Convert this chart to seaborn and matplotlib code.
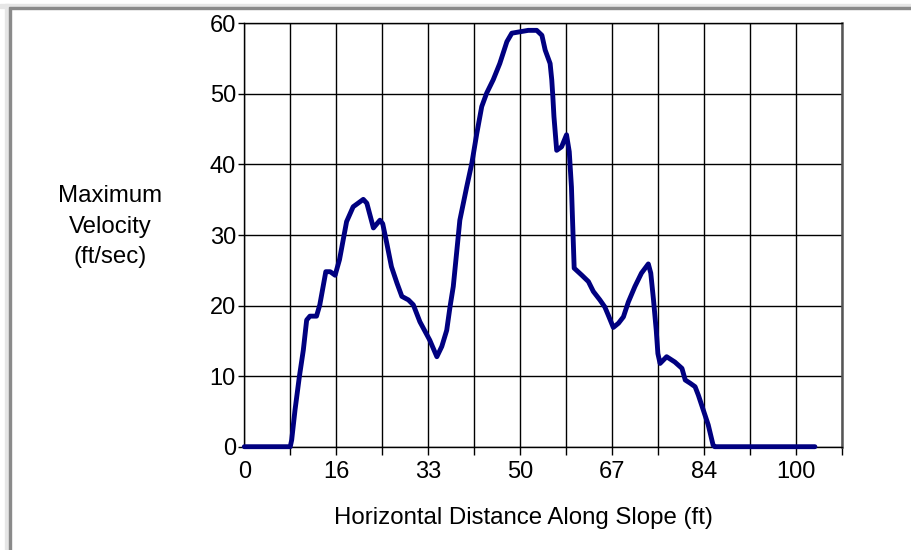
import matplotlib
matplotlib.use("Agg")
import matplotlib.pyplot as plt
from matplotlib.patches import Rectangle
import numpy as np
import pandas as pd
import seaborn as sns

distance_ft = [0, 8.4, 8.66, 9.27, 10.06, 10.79, 11.4, 12.0, 13.2, 13.8, 14.9, 15.7,
               16.6, 17.4, 18.7, 19.9, 21.75, 22.4, 23.6, 24.8, 25.3, 26.0, 26.9,
               27.9, 28.8, 30.0, 30.9, 32.1, 33.9, 35.2, 36.1, 37.0, 37.6, 38.2,
               38.8, 39.4, 40.65, 41.6, 42.5, 43.4, 44.3, 45.5, 46.7, 48.0, 48.9,
               50.4, 51.9, 53.45, 54.4, 55.0, 55.9, 56.2, 56.4, 56.6, 57.1, 58.0,
               58.9, 59.4, 59.8, 60.0, 60.3, 61.7, 62.9, 63.8, 65.0, 65.9, 66.5,
               67.45, 68.4, 69.3, 70.2, 71.4, 72.6, 73.85, 74.3, 74.8, 75.3, 75.6,
               76.0, 77.2, 78.7, 80.0, 80.6, 81.5, 82.4, 83.0, 83.9, 84.8, 85.7,
               86.0, 104.3]
velocity_fps = [0, 0, 0.95, 5.2, 9.9, 13.7, 17.95, 18.5, 18.5, 20.1, 24.8, 24.8,
                24.3, 26.5, 31.9, 34.0, 35.05, 34.5, 31.0, 32.1, 31.6, 29.0, 25.5,
                23.2, 21.3, 20.8, 20.1, 17.7, 15.1, 12.75, 14.2, 16.5, 19.8, 22.7,
                27.4, 32.1, 36.8, 40.2, 44.4, 48.2, 50.1, 52.0, 54.3, 57.4, 58.6,
                58.8, 59.0, 59.0, 58.3, 56.2, 54.3, 52.0, 49.6, 46.8, 42.0, 42.5,
                44.2, 41.8, 36.8, 32.1, 25.3, 24.3, 23.4, 22.0, 20.8, 19.8, 18.7,
                16.9, 17.5, 18.4, 20.5, 22.7, 24.6, 25.9, 24.6, 20.8, 16.5, 13.2,
                11.8, 12.75, 12.0, 11.1, 9.45, 9.0, 8.5, 7.3, 5.2, 3.1, 0.2,
                0, 0]

x_grid_step = 8.4
x_max = 109.2
x_tick_labels = ["0", "", "16", "", "33", "", "50", "", "67", "", "84", "", "100", ""]
y_ticks = [0, 10, 20, 30, 40, 50, 60]

sns.set_style("white")
plt.rcParams["font.family"] = ["Liberation Sans", "DejaVu Sans"]
plt.rcParams["text.color"] = "black"
plt.rcParams["xtick.color"] = "black"
plt.rcParams["ytick.color"] = "black"

W, H = 912, 550
fig = plt.figure(figsize=(W / 100, H / 100), dpi=100)
ax = fig.add_axes([244.3 / W, 1 - 446.7 / H, (841.7 - 244.3) / W, (446.7 - 23.3) / H])

df = pd.DataFrame({"x": distance_ft, "v": velocity_fps})
sns.lineplot(data=df, x="x", y="v", ax=ax, color="#000080", linewidth=3.5,
             sort=False, estimator=None, zorder=5, clip_on=False)

ax.set_xlim(0, x_max)
ax.set_ylim(0, 60)
xt = np.arange(len(x_tick_labels)) * x_grid_step
ax.set_xticks(xt)
ax.set_xticklabels(x_tick_labels)
ax.set_yticks(y_ticks)
ax.set_yticklabels([str(v) for v in y_ticks])

ax.grid(True, color="black", linewidth=1.0)
ax.set_axisbelow(True)
ax.tick_params(axis="x", direction="out", length=6, width=1.0, colors="black",
               pad=4, labelsize=17, bottom=True)
ax.tick_params(axis="y", direction="out", length=4, width=1.0, colors="black",
               pad=2, labelsize=17, left=True)
ax.xaxis.get_major_ticks()[0].tick1line.set_visible(False)
for s in ["left", "bottom", "top"]:
    ax.spines[s].set_color("black")
    ax.spines[s].set_linewidth(1.0)
ax.spines["right"].set_color("#555555")
ax.spines["right"].set_linewidth(1.8)
ax.set_xlabel("")
ax.set_ylabel("")

fig.text(523 / W, 1 - 518 / H, "Horizontal Distance Along Slope (ft)",
         ha="center", va="center", fontsize=17.3, color="black")
fig.text(110 / W, 1 - 227 / H, "Maximum\nVelocity\n(ft/sec)",
         ha="center", va="center", fontsize=17.3, linespacing=1.5, color="black")

# window frame
fig.patches.append(Rectangle((0, 1 - 8 / H), 1, 4 / H, transform=fig.transFigure,
                             color="#e6e6e6", zorder=0))
fig.patches.append(Rectangle((9 / W, 1 - 9 / H), 1, 2 / H, transform=fig.transFigure,
                             color="#8a8a8a", zorder=1))
fig.patches.append(Rectangle((5 / W, 0), 4 / W, 1 - 4 / H, transform=fig.transFigure,
                             color="#e6e6e6", zorder=0))
fig.patches.append(Rectangle((9 / W, 0), 2 / W, 1 - 9 / H, transform=fig.transFigure,
                             color="#8a8a8a", zorder=1))

fig.savefig("out.png", dpi=100)
